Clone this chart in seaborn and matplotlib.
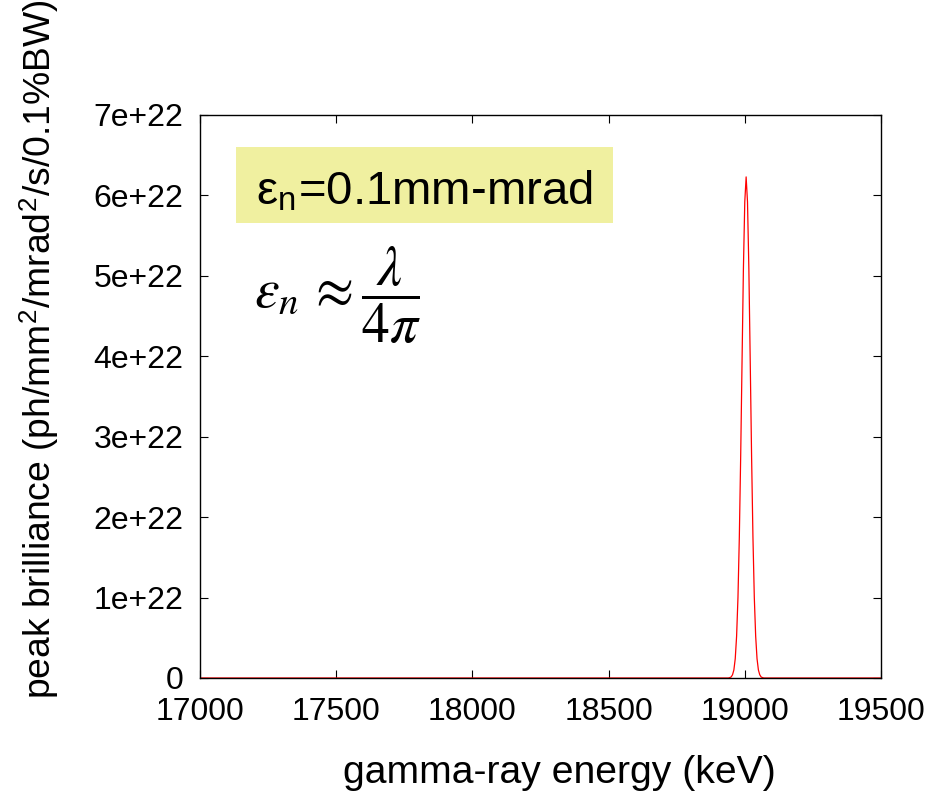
import numpy as np
import pandas as pd
import seaborn as sns
from matplotlib import pyplot as plt
from matplotlib.patches import Rectangle

# spectrum (keV, ph/mm^2/mrad^2/s/0.1%BW)
energy = [17000, 18940, 18945, 18950, 18955, 18960, 18965, 18970, 18975, 18980,
          18985, 18990, 18995, 19000, 19005, 19010, 19015, 19020, 19025, 19030,
          19035, 19040, 19045, 19050, 19055, 19060, 19065, 19070, 19500]
brilliance = [0, 0, 0.005, 0.013, 0.04, 0.10, 0.24, 0.52, 1.00, 1.75,
              2.76, 3.94, 5.09, 5.92, 6.23, 5.92, 5.09, 3.94, 2.76, 1.75,
              1.00, 0.52, 0.24, 0.10, 0.04, 0.013, 0.005, 0, 0]
brilliance = [b * 1e22 for b in brilliance]

xticks = [17000, 17500, 18000, 18500, 19000, 19500]
yticks = [0, 1e22, 2e22, 3e22, 4e22, 5e22, 6e22, 7e22]
ytick_labels = ['0', '1e+22', '2e+22', '3e+22', '4e+22', '5e+22', '6e+22', '7e+22']

data = pd.DataFrame({'energy': energy, 'brilliance': brilliance})

sns.set_style('ticks')
plt.rcParams['font.family'] = ['Liberation Sans', 'DejaVu Sans']
plt.rcParams['mathtext.fontset'] = 'stix'
plt.rcParams['text.color'] = 'black'
plt.rcParams['axes.labelcolor'] = 'black'
plt.rcParams['xtick.color'] = 'black'
plt.rcParams['ytick.color'] = 'black'

fig = plt.figure(figsize=(9.25, 7.94), dpi=100)
ax = fig.add_axes([0.2162, 0.1461, 0.7362, 0.7091])

sns.lineplot(data=data, x='energy', y='brilliance', color='red', linewidth=0.9, ax=ax)

ax.set_xlim(17000, 19500)
ax.set_ylim(0, 7e22)
ax.set_xticks(xticks)
ax.set_xticklabels([str(t) for t in xticks])
ax.set_yticks(yticks)
ax.set_yticklabels(ytick_labels)
ax.tick_params(direction='in', length=6, width=0.8, labelsize=23, top=True, right=True)
ax.tick_params(axis='x', pad=14)
ax.tick_params(axis='y', pad=12)
for s in ax.spines.values():
    s.set_linewidth(1.0)
    s.set_color('black')

ax.set_xlabel('gamma-ray energy (keV)', fontsize=28.2)
ax.xaxis.set_label_coords(0.528, -0.136)
ax.xaxis.label.set_va('top')
ax.set_ylabel('peak brilliance (ph/mm$^\\mathregular{2}$/mrad$^\\mathregular{2}$/s/0.1%BW)',
              fontsize=26.8)
ax.yaxis.set_label_coords(-0.205, 0.583)

ax.add_patch(Rectangle((0.053, 0.808), 0.5535, 0.135, transform=ax.transAxes,
                       facecolor='#f0f0a0', edgecolor='none', zorder=1))
ax.text(0.330, 0.840, 'ε$_\\mathregular{n}$=0.1mm-mrad', transform=ax.transAxes,
        fontsize=34, ha='center', va='baseline', zorder=2)
ax.text(0.08, 0.68, r'$\varepsilon_n \,\approx \dfrac{\lambda}{4\pi}$', transform=ax.transAxes,
        fontsize=40, ha='left', va='center')

fig.savefig('out.png', dpi=100)
